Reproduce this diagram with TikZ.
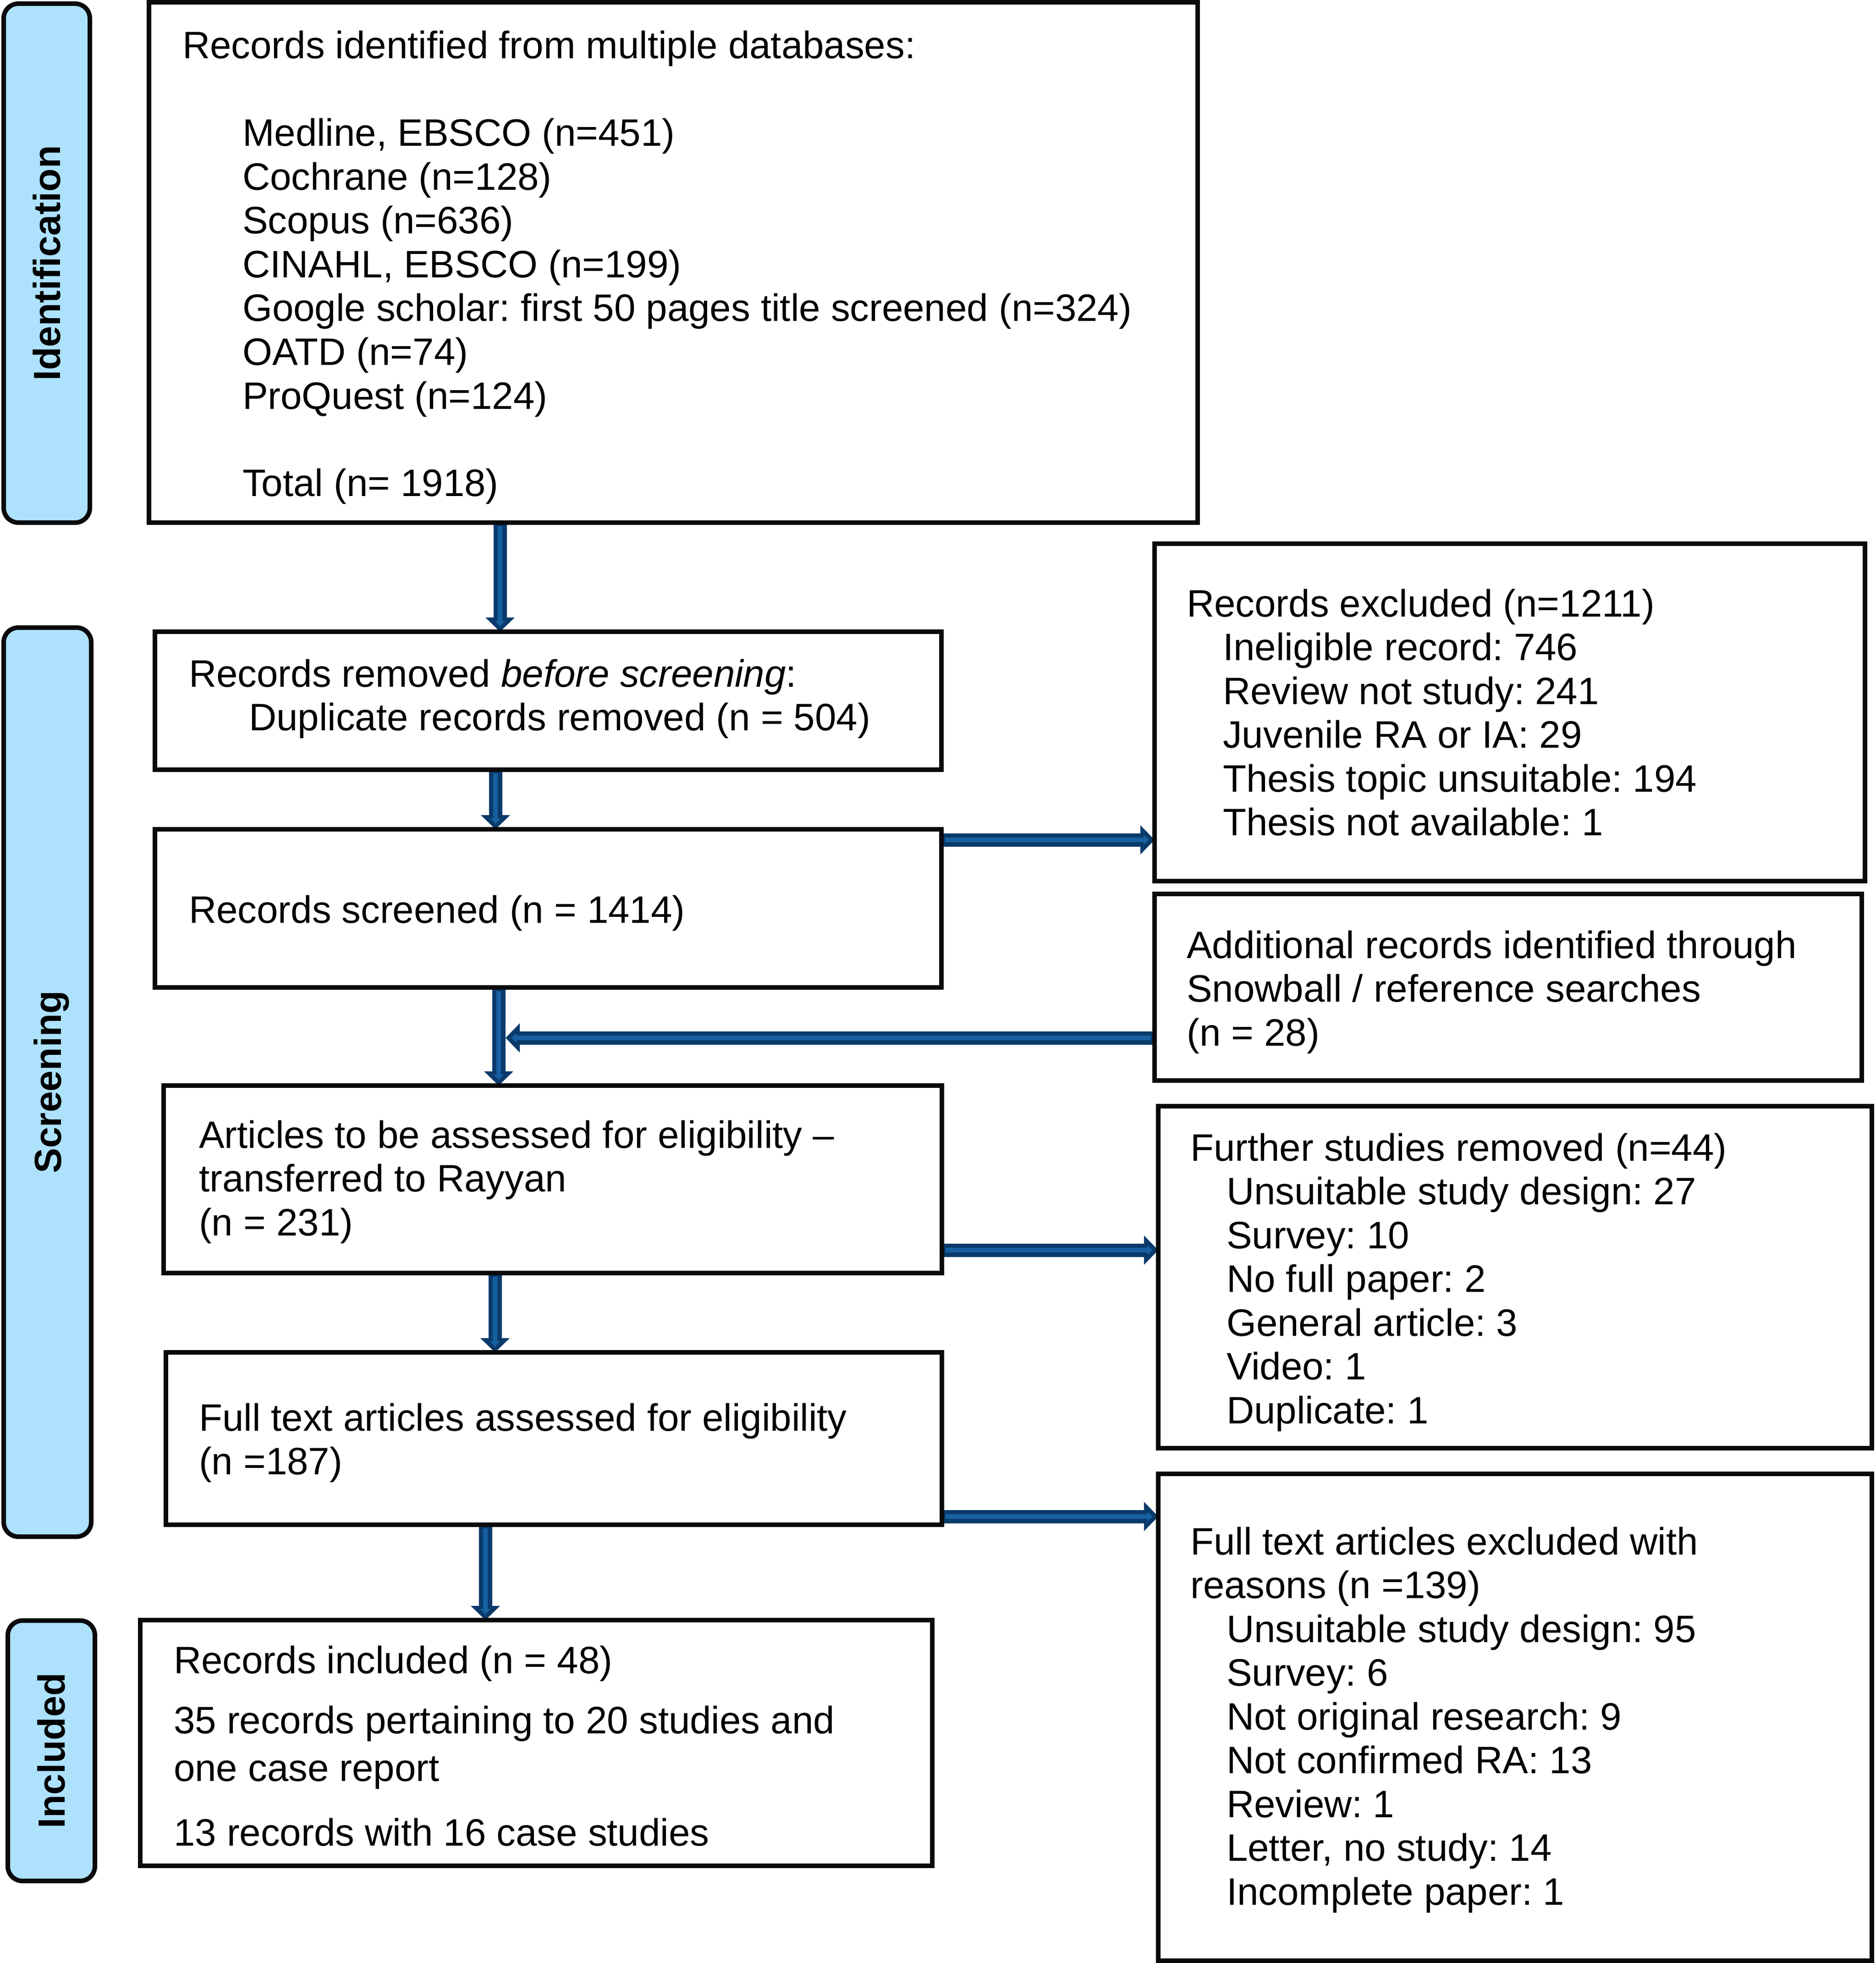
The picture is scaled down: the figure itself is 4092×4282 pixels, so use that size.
\documentclass[tikz,border=0pt]{standalone}
\usepackage{fontspec}
\setmainfont{Liberation Sans}
\usetikzlibrary{arrows.meta,calc}
\definecolor{arrdark}{RGB}{10,58,107}
\definecolor{arrlight}{RGB}{22,96,160}
\definecolor{panelblue}{RGB}{173,225,252}
\definecolor{ink}{RGB}{10,10,12}
\newcommand{\mlines}[1]{\vtop{\halign{##\hfil\cr#1\crcr}}}
\newcommand{\ind}{\hskip79pt}
\newcommand{\flow}[2]{%
  \draw[arrdark, line width=29pt, -{Triangle[length=31pt,width=62pt]}] #1 -- #2;
  \draw[arrlight, line width=10pt, shorten <=8pt, shorten >=12pt, -{Triangle[length=12pt,width=20pt]}] #1 -- #2;}
\tikzset{
  box/.style={draw=ink, line width=10pt, rectangle, inner sep=0pt, outer sep=0pt},
  panel/.style={draw=ink, line width=10pt, fill=panelblue, rounded corners=32pt, rectangle, inner sep=0pt, outer sep=0pt},
  txt/.style={anchor=base west, inner sep=0pt, font=\fontsize{83.4}{95.5}\selectfont},
  lab/.style={font=\fontsize{82.5}{95}\selectfont\bfseries, rotate=90, text height=59pt, text depth=0pt, inner sep=0pt}
}
\frenchspacing
\begin{document}
\frenchspacing
\begin{tikzpicture}[x=1pt,y=-1pt]
\useasboundingbox (0,0) rectangle (4092,4282);
% boxes: centre, width, height
\node[box, minimum width=2288pt, minimum height=1135pt] (top) at (1469,572.5) {};
\node[box, minimum width=1716pt, minimum height=301pt] (removed) at (1196,1528.5) {};
\node[box, minimum width=1716pt, minimum height=345pt] (screened) at (1196,1981.5) {};
\node[box, minimum width=1698pt, minimum height=409pt] (articles) at (1206,2572.5) {};
\node[box, minimum width=1693pt, minimum height=376pt] (full) at (1208.5,3138) {};
\node[box, minimum width=1728pt, minimum height=536pt] (included) at (1170,3802) {};
\node[box, minimum width=1550pt, minimum height=736pt] (excl) at (3294,1554) {};
\node[box, minimum width=1543pt, minimum height=407pt] (addl) at (3290.5,2153.5) {};
\node[box, minimum width=1557pt, minimum height=746pt] (further) at (3305.5,2786) {};
\node[box, minimum width=1557pt, minimum height=1062pt] (fte) at (3305.5,3746) {};
% side panels
\node[panel, minimum width=188pt, minimum height=1132pt] (pid) at (102,574) {};
\node[panel, minimum width=191pt, minimum height=1983pt] (pscr) at (103.5,2360.5) {};
\node[panel, minimum width=190pt, minimum height=568pt] (pinc) at (112,3819) {};
\node[lab] (lid) at (pid.center) {Identification};
\node[lab] (lscr) at (pscr.center) {Screening};
\node[lab] (linc) at (pinc.center) {Included};
% texts
\node[txt] (ttop) at (398,128) {\mlines{Records identified from multiple databases:\cr
\cr
\hskip131pt Medline, EBSCO (n=451)\cr
\hskip131pt Cochrane (n=128)\cr
\hskip131pt Scopus (n=636)\cr
\hskip131pt CINAHL, EBSCO (n=199)\cr
\hskip131pt Google scholar: first 50 pages title screened (n=324)\cr
\hskip131pt OATD (n=74)\cr
\hskip131pt ProQuest (n=124)\cr
\cr
\hskip131pt Total (n= 1918)}};
\node[txt] (tremoved) at (412,1498) {\mlines{Records removed \textit{before screening}:\cr
\hskip131pt Duplicate records removed (n = 504)}};
\node[txt] (tscreened) at (412,2013) {Records screened (n = 1414)};
\node[txt] (tarticles) at (434,2504) {\mlines{Articles to be assessed for eligibility –\cr
transferred to Rayyan\cr
(n = 231)}};
\node[txt] (tfull) at (434,3121) {\mlines{Full text articles assessed for eligibility\cr
(n =187)}};
\node[txt] (tinc1) at (379,3650) {Records included (n = 48)};
\node[txt, font=\fontsize{83.4}{104}\selectfont] (tinc2) at (379,3781) {\mlines{35 records pertaining to 20 studies and\cr
one case report}};
\node[txt] (tinc3) at (379,4026) {13 records with 16 case studies};
\node[txt] (texcl) at (2589,1345) {\mlines{Records excluded (n=1211)\cr
\ind Ineligible record: 746\cr
\ind Review not study: 241\cr
\ind Juvenile RA or IA: 29\cr
\ind Thesis topic unsuitable: 194\cr
\ind Thesis not available: 1}};
\node[txt] (taddl) at (2589,2090) {\mlines{Additional records identified through\cr
Snowball / reference searches\cr
(n = 28)}};
\node[txt] (tfurther) at (2597,2532) {\mlines{Further studies removed (n=44)\cr
\ind Unsuitable study design: 27\cr
\ind Survey: 10\cr
\ind No full paper: 2\cr
\ind General article: 3\cr
\ind Video: 1\cr
\ind Duplicate: 1}};
\node[txt] (tfte) at (2597,3391) {\mlines{Full text articles excluded with\cr
reasons (n =139)\cr
\ind Unsuitable study design: 95\cr
\ind Survey: 6\cr
\ind Not original research: 9\cr
\ind Not confirmed RA: 13\cr
\ind Review: 1\cr
\ind Letter, no study: 14\cr
\ind Incomplete paper: 1}};
% connector reference coordinates
\coordinate (v1) at (1091,0);
\coordinate (v2) at (1081,0);
\coordinate (v3) at (1088,0);
\coordinate (v4) at (1080,0);
\coordinate (v5) at (1059,0);
\coordinate (h1) at (0,1832);
\coordinate (h2) at (0,2727);
\coordinate (h3) at (0,3308);
\coordinate (join) at (1103,2264);
% arrows
\flow{(top.south -| v1)}{(removed.north -| v1)}
\flow{(removed.south -| v2)}{(screened.north -| v2)}
\flow{(screened.south -| v3)}{(articles.north -| v3)}
\flow{(articles.south -| v4)}{(full.north -| v4)}
\flow{(full.south -| v5)}{(included.north -| v5)}
\flow{(screened.east |- h1)}{(excl.west |- h1)}
\flow{(articles.east |- h2)}{(further.west |- h2)}
\flow{(full.east |- h3)}{(fte.west |- h3)}
\flow{(addl.west |- join)}{(join)}
% redraw box outlines over arrow ends
\foreach \b in {top,removed,screened,articles,full,included,excl,addl,further,fte}
  \draw[ink, line width=10pt] (\b.north west) rectangle (\b.south east);
\end{tikzpicture}
\end{document}
